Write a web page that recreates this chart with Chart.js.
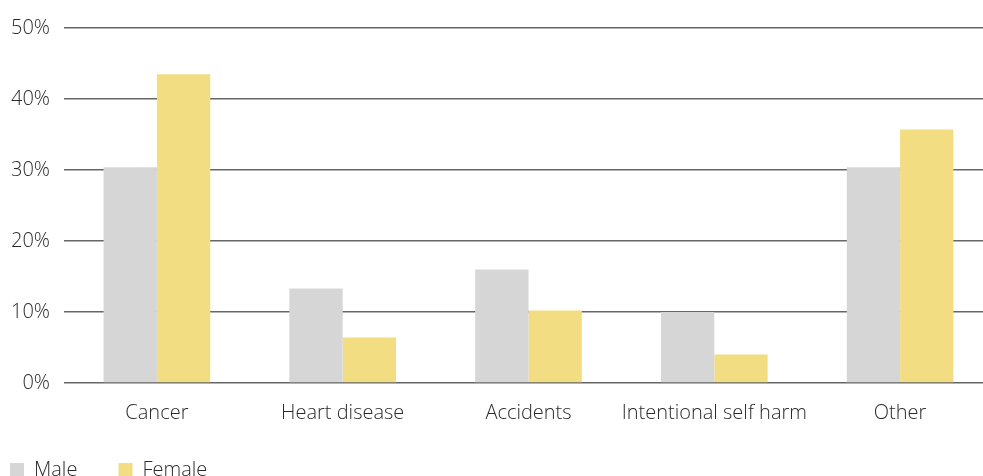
<!DOCTYPE html>
<html>
<head>
<meta charset="utf-8">
<script src="https://cdn.jsdelivr.net/npm/chart.js@4"></script>
<style>
  html, body { margin: 0; padding: 0; background: #fff; overflow: hidden; }
  #wrap { width: 993px; height: 490px; }
</style>
</head>
<body>
<div id="wrap"><canvas id="chart"></canvas></div>
<script>
const categories = ['Cancer', 'Heart disease', 'Accidents', 'Intentional self harm', 'Other'];
const maleValues = [30.4, 13.3, 16.0, 10.0, 30.4];
const femaleValues = [43.5, 6.4, 10.2, 4.0, 35.7];
const yTicks = [0, 10, 20, 30, 40, 50];

const textColor = '#2b2b2b';
const fontFamily = '"Open Sans", "Liberation Sans", sans-serif';
const labelFont = { family: fontFamily, size: 20, weight: '300' };

new Chart(document.getElementById('chart'), {
  type: 'bar',
  data: {
    labels: categories,
    datasets: [
      { label: 'Male', data: maleValues, backgroundColor: '#d6d6d6' },
      { label: 'Female', data: femaleValues, backgroundColor: '#f2dd82' },
    ],
  },
  options: {
    responsive: true,
    maintainAspectRatio: false,
    animation: false,
    datasets: { bar: { barPercentage: 1, categoryPercentage: 0.574 } },
    layout: { padding: { top: 28, left: 0, right: 0, bottom: 0 } },
    plugins: {
      tooltip: { enabled: false },
      legend: {
        position: 'bottom',
        align: 'start',
        labels: {
          boxWidth: 14,
          boxHeight: 14,
          padding: 10,
          color: textColor,
          font: labelFont,
          generateLabels(chart) {
            const items = Chart.defaults.plugins.legend.labels.generateLabels(chart);
            items.forEach((it, i) => {
              // widen the gap between the two legend entries
              if (i === 0) it.text = it.text + '      ';
              it.lineWidth = 0;
            });
            return items;
          },
        },
      },
    },
    scales: {
      x: {
        grid: { display: false, drawTicks: false },
        border: { display: false },
        ticks: {
          padding: 18,
          color: textColor,
          font: labelFont,
          maxRotation: 0,
          minRotation: 0,
          autoSkip: false,
        },
        afterFit(scale) { scale.height += 7; },
      },
      y: {
        min: 0,
        max: 50,
        z: 1,
        afterBuildTicks(scale) { scale.ticks = yTicks.map(v => ({ value: v })); },
        grid: { color: '#666', lineWidth: 1.5, drawTicks: false },
        border: { display: false },
        ticks: {
          padding: 14,
          color: textColor,
          font: labelFont,
          callback: v => v + '%',
        },
        afterFit(scale) { scale.width = 64; },
      },
    },
  },
});
</script>
</body>
</html>
